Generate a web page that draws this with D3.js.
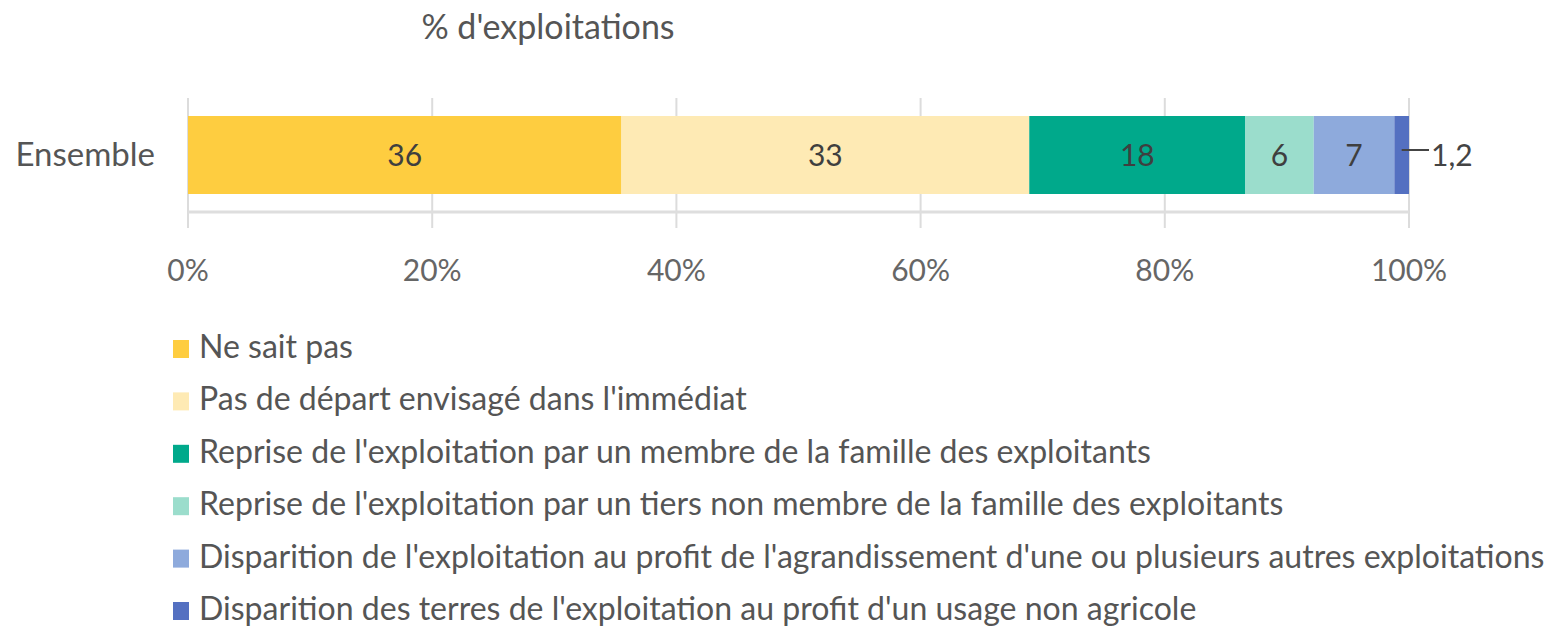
<!DOCTYPE html>
<html><head><meta charset="utf-8">
<script src="https://cdn.jsdelivr.net/npm/d3@7"></script>
<style>body{margin:0;background:#fff}svg{display:block}text{font-family:Lato,"Noto Sans",sans-serif}</style>
</head><body>
<svg id="c" width="1562" height="627"></svg>
<script>
const categories = ["Ensemble"];
const seriesNames = [
  "Ne sait pas",
  "Pas de départ envisagé dans l'immédiat",
  "Reprise de l'exploitation par un membre de la famille des exploitants",
  "Reprise de l'exploitation par un tiers non membre de la famille des exploitants",
  "Disparition de l'exploitation au profit de l'agrandissement d'une ou plusieurs autres exploitations",
  "Disparition des terres de l'exploitation au profit d'un usage non agricole"
];
const seriesValues = [35.5, 33.4, 17.7, 5.6, 6.6, 1.2];
const seriesLabels = ["36", "33", "18", "6", "7", "1,2"];
const colors = ["#fecd40", "#feeab4", "#00a98b", "#9bddcc", "#8eaadc", "#5470c1"];
const tickValues = [0, 20, 40, 60, 80, 100];
const tickLabels = ["0%", "20%", "40%", "60%", "80%", "100%"];
const title = "% d'exploitations";

const svg = d3.select("#c");
const x = d3.scaleLinear().domain([0, 100]).range([188, 1409]);
const y = d3.scaleBand().domain(categories).range([116, 194]).padding(0);

// gridlines
svg.append("g").selectAll("line").data(tickValues).join("line")
  .attr("x1", d => x(d)).attr("x2", d => x(d))
  .attr("y1", 98).attr("y2", 228)
  .attr("stroke", "#dcdcdc").attr("stroke-width", 2);

// stacked bar
let cum = 0;
const segs = seriesValues.map((v, i) => { const s = {i, v, x0: cum, x1: cum + v}; cum += v; return s; });
const bar = svg.append("g");
bar.selectAll("rect").data(segs).join("rect")
  .attr("x", d => x(d.x0)).attr("width", d => x(d.x1) - x(d.x0))
  .attr("y", y("Ensemble")).attr("height", y.bandwidth())
  .attr("fill", d => colors[d.i]);

// axis baseline
svg.append("line").attr("x1", x(0)).attr("x2", x(100)).attr("y1", 212).attr("y2", 212)
  .attr("stroke", "#dedede").attr("stroke-width", 3);

const cy = y("Ensemble") + y.bandwidth() / 2;
// in-bar labels
bar.selectAll("text").data(segs.filter(d => d.i < 5)).join("text")
  .attr("x", d => x((d.x0 + d.x1) / 2)).attr("y", cy + 11)
  .attr("text-anchor", "middle").attr("font-size", 30).attr("fill", "#3f3f3f")
  .text(d => seriesLabels[d.i]);
// last small segment label with leader
const last = segs[5];
svg.append("line").attr("x1", x((last.x0 + last.x1) / 2)).attr("x2", x(100) + 20)
  .attr("y1", cy - 5).attr("y2", cy - 5).attr("stroke", "#444").attr("stroke-width", 2);
svg.append("text").attr("x", x(100) + 22).attr("y", cy + 11)
  .attr("font-size", 30).attr("fill", "#444").text(seriesLabels[5]);

// category label
svg.append("text").attr("x", 155).attr("y", cy + 11).attr("text-anchor", "end")
  .attr("font-size", 33).attr("fill", "#555").text(categories[0]);

// tick labels
svg.append("g").selectAll("text").data(tickValues).join("text")
  .attr("x", d => x(d)).attr("y", 281).attr("text-anchor", "middle")
  .attr("font-size", 30).attr("fill", "#666").text((d, i) => tickLabels[i]);

// title
svg.append("text").attr("x", 548).attr("y", 39).attr("text-anchor", "middle")
  .attr("font-size", 34).attr("fill", "#555").text(title);

// legend
const lg = svg.append("g");
const rowY = d3.scaleLinear().domain([0, 5]).range([348, 610]);
lg.selectAll("rect").data(seriesNames).join("rect")
  .attr("x", 173).attr("y", (d, i) => rowY(i) - 8).attr("width", 16).attr("height", 18)
  .attr("fill", (d, i) => colors[i]);
const lt = lg.selectAll("text").data(seriesNames).join("text")
  .attr("x", 199).attr("y", (d, i) => rowY(i) + 10)
  .attr("font-size", 28).attr("fill", "#555").text(d => d);
// fit legend font size to target width of longest line
const longest = d3.max(lt.nodes(), n => n.getComputedTextLength());
const fs = 28 * 1346 / longest;
lt.attr("font-size", fs);
</script>
</body></html>
